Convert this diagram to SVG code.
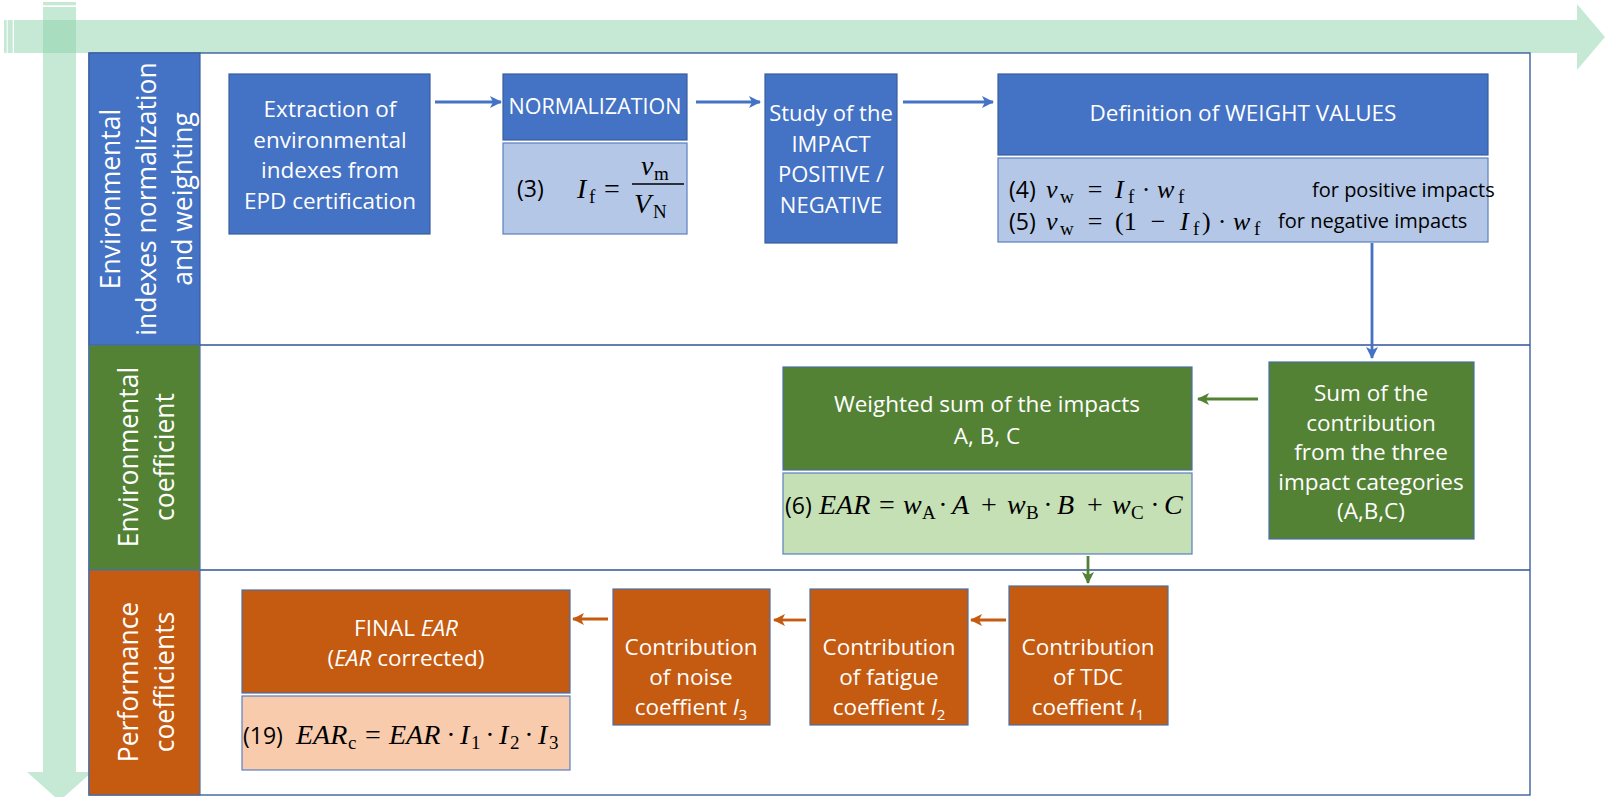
<svg xmlns="http://www.w3.org/2000/svg" width="1605" height="797" viewBox="0 0 1605 797">
<style>
.t{font-family:"Open Sans","Liberation Sans",sans-serif;font-size:22.5px;fill:#fff;text-anchor:middle}
.lbl{font-family:"Open Sans","Liberation Sans",sans-serif;font-size:26.5px;fill:#fff;text-anchor:middle}
.k{font-family:"Open Sans","Liberation Sans",sans-serif;font-size:23px;fill:#000}
.r{font-family:"Open Sans","Liberation Sans",sans-serif;font-size:20px;fill:#000}
.m{font-family:"Liberation Serif","DejaVu Serif",serif;font-size:28px;fill:#000}
.m2{font-family:"Liberation Serif","DejaVu Serif",serif;font-size:26px;fill:#000}
.i{font-style:italic}
.s{font-size:19px;font-style:normal}
.o{text-anchor:middle}
.db{fill:#4472C4;stroke:#3A5E9E;stroke-width:1.2}
.lb{fill:#B4C7E7;stroke:#5B7FBF;stroke-width:1.2}
.dg{fill:#548235;stroke:#4A6FA8;stroke-width:1.2}
.lg{fill:#C5E0B4;stroke:#5B7FBF;stroke-width:1.2}
.do{fill:#C55A11;stroke:#4A6FA8;stroke-width:1.2}
.lo{fill:#F8CBAD;stroke:#5B7FBF;stroke-width:1.2}
.band{fill:#C6E9D6}
.frame{fill:none;stroke:#2F5597;stroke-width:1.3}
.ab{stroke:#4472C4;stroke-width:2.8;fill:none}
.ag{stroke:#548235;stroke-width:2.8;fill:none}
.ao{stroke:#C55A11;stroke-width:2.8;fill:none}
</style>
<defs>
<marker id="hb" markerUnits="userSpaceOnUse" markerWidth="14" markerHeight="14" refX="11" refY="6" orient="auto"><path d="M0,0 L12,6 L0,12 L3,6 Z" fill="#4472C4"/></marker>
<marker id="hg" markerUnits="userSpaceOnUse" markerWidth="14" markerHeight="14" refX="11" refY="6" orient="auto"><path d="M0,0 L12,6 L0,12 L3,6 Z" fill="#548235"/></marker>
<marker id="ho" markerUnits="userSpaceOnUse" markerWidth="14" markerHeight="14" refX="11" refY="6" orient="auto"><path d="M0,0 L12,6 L0,12 L3,6 Z" fill="#C55A11"/></marker>
</defs>

<g id="axes">
<rect class="band" x="4" y="20" width="2.7" height="33"/>
<rect class="band" x="7.7" y="20" width="5" height="33"/>
<polygon class="band" points="14,20 1577,20 1577,4 1605,37 1577,70 1577,53 14,53"/>
<rect class="band" x="43" y="2" width="33" height="3.3"/>
<polygon class="band" points="43,7 76,7 76,772 92,772 59.5,801 27,772 43,772"/>
<rect x="43" y="20" width="33" height="33" fill="#A9DDC0"/>
</g>

<g id="frame">
<rect class="frame" x="89" y="53" width="1441" height="742"/>
<line class="frame" x1="200" y1="345" x2="1530" y2="345"/>
<line class="frame" x1="200" y1="570" x2="1530" y2="570"/>
</g>

<g id="row1-label">
<rect class="db" x="89" y="53" width="111" height="292"/>
<g transform="translate(0,199) rotate(-90)">
<text class="lbl" x="0" y="120">Environmental</text>
<text class="lbl" x="0" y="156">indexes normalization</text>
<text class="lbl" x="0" y="192">and weighting</text>
</g>
</g>
<g id="row2-label">
<rect class="dg" x="89" y="345" width="111" height="225"/>
<g transform="translate(0,457) rotate(-90)">
<text class="lbl" x="0" y="138">Environmental</text>
<text class="lbl" x="0" y="174">coefficient</text>
</g>
</g>
<g id="row3-label">
<rect class="do" x="89" y="570" width="111" height="225"/>
<g transform="translate(0,682) rotate(-90)">
<text class="lbl" x="0" y="138">Performance</text>
<text class="lbl" x="0" y="174">coefficients</text>
</g>
</g>

<g id="extraction">
<rect class="db" x="229" y="74" width="201" height="160"/>
<text class="t" x="330" y="117">Extraction of</text>
<text class="t" x="330" y="147.5">environmental</text>
<text class="t" x="330" y="178">indexes from</text>
<text class="t" x="330" y="208.5">EPD certification</text>
</g>

<g id="normalization">
<rect class="db" x="503" y="74" width="184" height="66"/>
<text class="t" x="595" y="114" style="font-size:21.5px">NORMALIZATION</text>
<rect class="lb" x="503" y="143" width="184" height="91"/>
<text class="k" x="517" y="197">(3)</text>
<text class="m"><tspan class="i" x="577" y="198">I</tspan><tspan class="s" x="589" y="203">f</tspan><tspan class="o" x="612" y="198">=</tspan></text>
<text class="m"><tspan class="i" x="641" y="175">v</tspan><tspan class="s" x="654" y="180">m</tspan></text>
<line x1="632" y1="184" x2="684" y2="184" stroke="#000" stroke-width="1.3"/>
<text class="m"><tspan class="i" x="634" y="213">V</tspan><tspan class="s" x="653" y="218">N</tspan></text>
</g>

<g id="study">
<rect class="db" x="765" y="74" width="132" height="169"/>
<text class="t" x="831" y="121" style="font-size:22px">Study of the</text>
<text class="t" x="831" y="151.5" style="font-size:22px">IMPACT</text>
<text class="t" x="831" y="182" style="font-size:22px">POSITIVE /</text>
<text class="t" x="831" y="212.5" style="font-size:22px">NEGATIVE</text>
</g>

<g id="weights">
<rect class="db" x="998" y="74" width="490" height="81"/>
<text class="t" x="1243" y="121">Definition of WEIGHT VALUES</text>
<rect class="lb" x="998" y="158" width="490" height="84"/>
<text class="k" x="1009" y="198">(4)</text>
<text class="m2"><tspan class="i" x="1046" y="198">v</tspan><tspan class="s" x="1060" y="203">w</tspan><tspan class="o" x="1095" y="198">=</tspan><tspan class="i" x="1115" y="198">I</tspan><tspan class="s" x="1128" y="203">f</tspan><tspan class="o" x="1146" y="198">·</tspan><tspan class="i" x="1157" y="198">w</tspan><tspan class="s" x="1178" y="203">f</tspan></text>
<text class="r" x="1312" y="197">for positive impacts</text>
<text class="k" x="1009" y="230">(5)</text>
<text class="m2"><tspan class="i" x="1046" y="230">v</tspan><tspan class="s" x="1060" y="235">w</tspan><tspan class="o" x="1095" y="230">=</tspan><tspan x="1115" y="230">(1</tspan><tspan class="o" x="1158" y="230">−</tspan><tspan class="i" x="1180" y="230">I</tspan><tspan class="s" x="1193" y="235">f</tspan><tspan x="1202" y="230">)</tspan><tspan class="o" x="1222" y="230">·</tspan><tspan class="i" x="1233" y="230">w</tspan><tspan class="s" x="1254" y="235">f</tspan></text>
<text class="r" x="1278" y="228">for negative impacts</text>
</g>

<g id="sum">
<rect class="dg" x="1269" y="362" width="205" height="177"/>
<text class="t" x="1371" y="401">Sum of the</text>
<text class="t" x="1371" y="430.5">contribution</text>
<text class="t" x="1371" y="460">from the three</text>
<text class="t" x="1371" y="489.5">impact categories</text>
<text class="t" x="1371" y="519">(A,B,C)</text>
</g>

<g id="weighted">
<rect class="dg" x="783" y="367" width="409" height="103"/>
<text class="t" x="987" y="412">Weighted sum of the impacts</text>
<text class="t" x="987" y="444">A, B, C</text>
<rect class="lg" x="783" y="473" width="409" height="81"/>
<text class="k" x="785" y="514">(6)</text>
<text class="m"><tspan class="i" x="819" y="514">EAR</tspan><tspan class="o" x="887" y="514">=</tspan><tspan class="i" x="903" y="514">w</tspan><tspan class="s" x="922" y="519">A</tspan><tspan class="o" x="943" y="514">·</tspan><tspan class="i" x="952" y="514">A</tspan><tspan class="o" x="989" y="514">+</tspan><tspan class="i" x="1007" y="514">w</tspan><tspan class="s" x="1026" y="519">B</tspan><tspan class="o" x="1048" y="514">·</tspan><tspan class="i" x="1057" y="514">B</tspan><tspan class="o" x="1095" y="514">+</tspan><tspan class="i" x="1112" y="514">w</tspan><tspan class="s" x="1131" y="519">C</tspan><tspan class="o" x="1155" y="514">·</tspan><tspan class="i" x="1164" y="514">C</tspan></text>
</g>

<g id="tdc">
<rect class="do" x="1009" y="586" width="159" height="139"/>
<text class="t" x="1088" y="655">Contribution</text>
<text class="t" x="1088" y="685">of TDC</text>
<text class="t" x="1088" y="715">coeffient <tspan font-style="italic">I</tspan><tspan font-size="15" dy="5">1</tspan></text>
</g>

<g id="fatigue">
<rect class="do" x="810" y="589" width="158" height="136"/>
<text class="t" x="889" y="655">Contribution</text>
<text class="t" x="889" y="685">of fatigue</text>
<text class="t" x="889" y="715">coeffient <tspan font-style="italic">I</tspan><tspan font-size="15" dy="5">2</tspan></text>
</g>

<g id="noise">
<rect class="do" x="613" y="589" width="157" height="136"/>
<text class="t" x="691" y="655">Contribution</text>
<text class="t" x="691" y="685">of noise</text>
<text class="t" x="691" y="715">coeffient <tspan font-style="italic">I</tspan><tspan font-size="15" dy="5">3</tspan></text>
</g>

<g id="final">
<rect class="do" x="242" y="590" width="328" height="103"/>
<text class="t" x="406" y="636">FINAL <tspan font-style="italic">EAR</tspan></text>
<text class="t" x="406" y="666">(<tspan font-style="italic">EAR</tspan> corrected)</text>
<rect class="lo" x="242" y="696" width="328" height="74"/>
<text class="k" x="243" y="744">(19)</text>
<text class="m"><tspan class="i" x="296" y="744">EAR</tspan><tspan class="s" x="348" y="749">c</tspan><tspan class="o" x="373" y="744">=</tspan><tspan class="i" x="389" y="744">EAR</tspan><tspan class="o" x="451" y="744">·</tspan><tspan class="i" x="460" y="744">I</tspan><tspan class="s" x="471" y="749">1</tspan><tspan class="o" x="490" y="744">·</tspan><tspan class="i" x="499" y="744">I</tspan><tspan class="s" x="510" y="749">2</tspan><tspan class="o" x="529" y="744">·</tspan><tspan class="i" x="538" y="744">I</tspan><tspan class="s" x="549" y="749">3</tspan></text>
</g>

<g id="connectors">
<line class="ab" x1="435" y1="102" x2="501" y2="102" marker-end="url(#hb)"/>
<line class="ab" x1="696" y1="102" x2="760" y2="102" marker-end="url(#hb)"/>
<line class="ab" x1="903" y1="102" x2="993" y2="102" marker-end="url(#hb)"/>
<line class="ab" x1="1372" y1="243" x2="1372" y2="358" marker-end="url(#hb)"/>
<line class="ag" x1="1258" y1="399" x2="1198" y2="399" marker-end="url(#hg)"/>
<line class="ag" x1="1088" y1="556" x2="1088" y2="583" marker-end="url(#hg)"/>
<line class="ao" x1="1006" y1="620" x2="971" y2="620" marker-end="url(#ho)"/>
<line class="ao" x1="806" y1="620" x2="774" y2="620" marker-end="url(#ho)"/>
<line class="ao" x1="608" y1="619" x2="573" y2="619" marker-end="url(#ho)"/>
</g>
</svg>
